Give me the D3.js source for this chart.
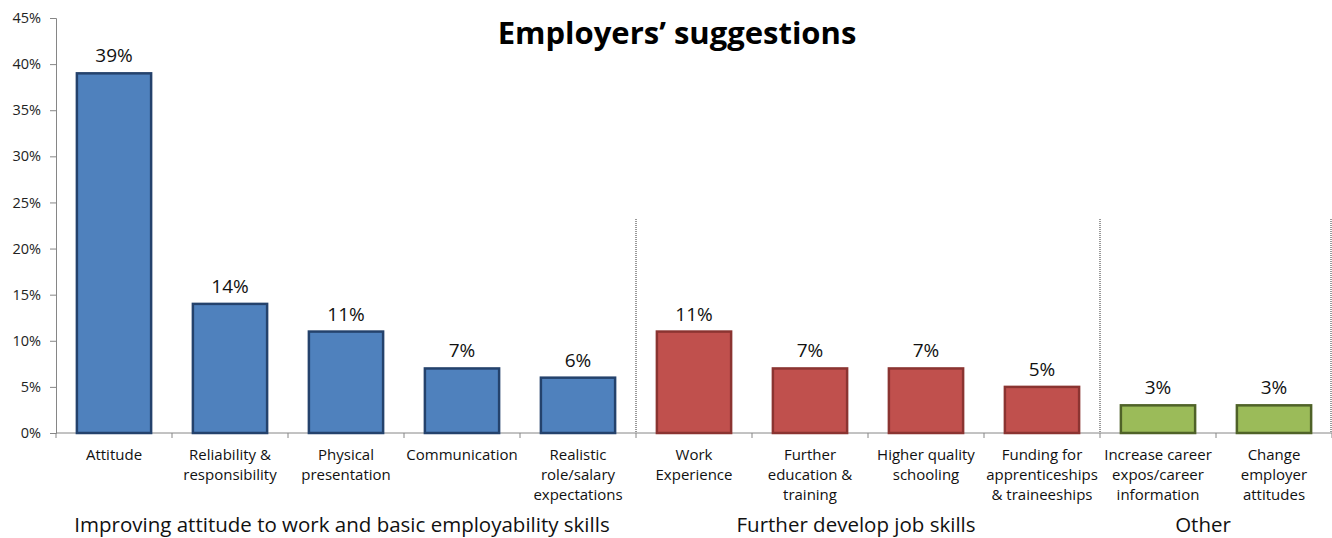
<!DOCTYPE html>
<html>
<head>
    <meta charset="UTF-8">
    <title>Employers' suggestions</title>
    <script src="https://d3js.org/d3.v7.min.js"></script>
    <style>
        body { margin: 0; background: #fff; }
        text { font-family: "Open Sans", Lato, sans-serif; }
    </style>
</head>
<body>
    <div id="chart"></div>
    <script>
        // chart data
        var categories = [
            ["Attitude"],
            ["Reliability &", "responsibility"],
            ["Physical", "presentation"],
            ["Communication"],
            ["Realistic", "role/salary", "expectations"],
            ["Work", "Experience"],
            ["Further", "education &", "training"],
            ["Higher quality", "schooling"],
            ["Funding for", "apprenticeships", "& traineeships"],
            ["Increase career", "expos/career", "information"],
            ["Change", "employer", "attitudes"]
        ];
        var values = [39, 14, 11, 7, 6, 11, 7, 7, 5, 3, 3];
        var groupOf = [0, 0, 0, 0, 0, 1, 1, 1, 1, 2, 2];
        var groups = ["Improving attitude to work and basic employability skills", "Further develop job skills", "Other"];
        var yTicks = [0, 5, 10, 15, 20, 25, 30, 35, 40, 45];

        var fills = ["#4F81BD", "#C0504D", "#9BBB59"];
        var strokes = ["#24426C", "#8B3431", "#4F6228"];

        var W = 1332, H = 538;
        var mLeft = 56, mRight = 1332, mTop = 18, mBottom = 433;

        var svg = d3.select("#chart").append("svg")
            .attr("width", W)
            .attr("height", H);

        var x = d3.scaleBand()
            .domain(d3.range(values.length))
            .range([mLeft, mRight])
            .paddingInner(0.36)
            .paddingOuter(0.18);

        var y = d3.scaleLinear()
            .domain([0, 45])
            .range([mBottom, mTop]);

        // y axis
        var yAxis = svg.append("g")
            .attr("transform", "translate(" + mLeft + ",0)")
            .call(d3.axisLeft(y).tickValues(yTicks).tickSize(6).tickPadding(9)
                .tickFormat(function (d) { return d + "%"; }));
        yAxis.select(".domain").attr("stroke", "#868686");
        yAxis.selectAll(".tick line").attr("stroke", "#868686");
        yAxis.selectAll(".tick text").attr("font-size", 14.5).attr("fill", "#222")
            .attr("font-family", "'Open Sans', sans-serif");

        // x axis baseline and ticks between categories
        var step = x.step();
        svg.append("line")
            .attr("x1", mLeft).attr("x2", mRight)
            .attr("y1", mBottom).attr("y2", mBottom)
            .attr("stroke", "#868686");
        svg.selectAll(".xtick")
            .data(d3.range(values.length + 1))
            .enter().append("line")
            .attr("x1", function (i) { return mLeft + i * step; })
            .attr("x2", function (i) { return mLeft + i * step; })
            .attr("y1", mBottom).attr("y2", mBottom + 5)
            .attr("stroke", "#868686");

        // dotted separators between groups
        var sepIdx = [5, 9, 11];
        svg.selectAll(".sep")
            .data(sepIdx)
            .enter().append("line")
            .attr("x1", function (i) { return Math.min(mLeft + i * step, mRight - 1); })
            .attr("x2", function (i) { return Math.min(mLeft + i * step, mRight - 1); })
            .attr("y1", 219).attr("y2", mBottom)
            .attr("stroke", "#333")
            .attr("stroke-width", 1)
            .attr("stroke-dasharray", "1,1");

        // bars
        svg.selectAll(".bar")
            .data(values)
            .enter().append("rect")
            .attr("x", function (d, i) { return x(i); })
            .attr("y", function (d) { return y(d); })
            .attr("width", x.bandwidth())
            .attr("height", function (d) { return mBottom - y(d); })
            .attr("fill", function (d, i) { return fills[groupOf[i]]; })
            .attr("stroke", function (d, i) { return strokes[groupOf[i]]; })
            .attr("stroke-width", 2.5);

        // value labels
        svg.selectAll(".val")
            .data(values)
            .enter().append("text")
            .attr("x", function (d, i) { return x(i) + x.bandwidth() / 2; })
            .attr("y", function (d) { return y(d) - 11; })
            .attr("text-anchor", "middle")
            .attr("font-size", 19)
            .attr("fill", "#111")
            .text(function (d) { return d + "%"; });

        // category labels
        var cat = svg.selectAll(".cat")
            .data(categories)
            .enter().append("text")
            .attr("text-anchor", "middle")
            .attr("font-size", 15)
            .attr("fill", "#111");
        cat.selectAll("tspan")
            .data(function (d, i) { return d.map(function (s) { return { s: s, i: i }; }); })
            .enter().append("tspan")
            .attr("x", function (d) { return mLeft + (d.i + 0.5) * step; })
            .attr("y", function (d, j) { return 460 + j * 20; })
            .text(function (d) { return d.s; });

        // group labels
        var groupSpan = [[0, 5], [5, 9], [9, 11]];
        var groupShift = [-4, -12, -13];
        svg.selectAll(".grp")
            .data(groups)
            .enter().append("text")
            .attr("x", function (d, i) {
                return mLeft + (groupSpan[i][0] + groupSpan[i][1]) / 2 * step + groupShift[i];
            })
            .attr("y", 532)
            .attr("text-anchor", "middle")
            .attr("font-size", 20.5)
            .attr("fill", "#111")
            .text(function (d) { return d; });

        // title
        svg.append("text")
            .attr("x", 677)
            .attr("y", 44)
            .attr("text-anchor", "middle")
            .attr("font-size", 31)
            .attr("font-weight", "bold")
            .attr("fill", "#000")
            .text("Employers\u2019 suggestions");
    </script>
</body>
</html>
